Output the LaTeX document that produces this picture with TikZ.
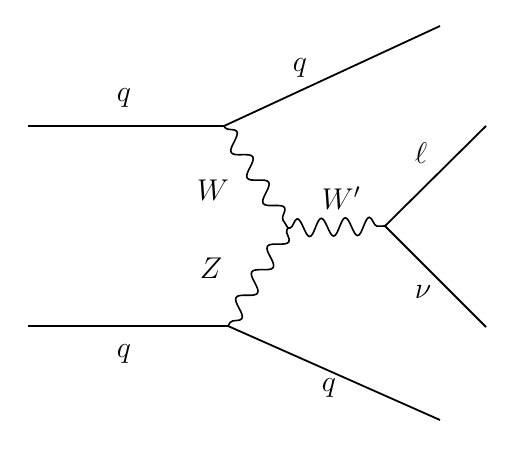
\RequirePackage{fix-cm}
\documentclass[tikz,border=0pt]{standalone}
\usetikzlibrary{decorations.pathmorphing}
\begin{document}
\begin{tikzpicture}[x=1pt,y=-1pt,
  fermion/.style={line width=1.8pt},
  boson/.style={line width=1.6pt,decorate,decoration={snake,amplitude=8pt,segment length=30pt,pre length=2pt,post length=2pt}},
  lbl/.style={font=\fontsize{30}{34}\selectfont}]
\useasboundingbox (0,0) rectangle (512,452);
\coordinate (q1) at (28,126);
\coordinate (q2) at (28,326);
\coordinate (v1) at (224,126);
\coordinate (v2) at (228,326);
\coordinate (vc) at (288,228);
\coordinate (vw) at (385,226);
\coordinate (o1) at (440,26);
\coordinate (o2) at (440,420);
\coordinate (ol) at (486,126);
\coordinate (on) at (486,327);
\draw[fermion] (q1) -- (v1) -- (o1);
\draw[fermion] (q2) -- (v2) -- (o2);
\draw[fermion] (ol) -- (vw) -- (on);
\draw[boson] (v1) -- (vc);
\draw[boson] (vc) -- (v2);
\draw[boson,decoration={snake,amplitude=9pt,segment length=24pt}] (vc) -- (vw);
\node[lbl] (lq1) at (124,98) {$q$};
\node[lbl] (lq2) at (300,68) {$q$};
\node[lbl] (lW) at (213,190) {$W$};
\node[lbl] (lWp) at (341,198) {$W'$};
\node[lbl] (ll) at (421,153) {$\ell$};
\node[lbl] (lnu) at (423,292) {$\nu$};
\node[lbl] (lZ) at (211,268) {$Z$};
\node[lbl] (lq3) at (124,354) {$q$};
\node[lbl] (lq4) at (329,388) {$q$};
\end{tikzpicture}
\end{document}
